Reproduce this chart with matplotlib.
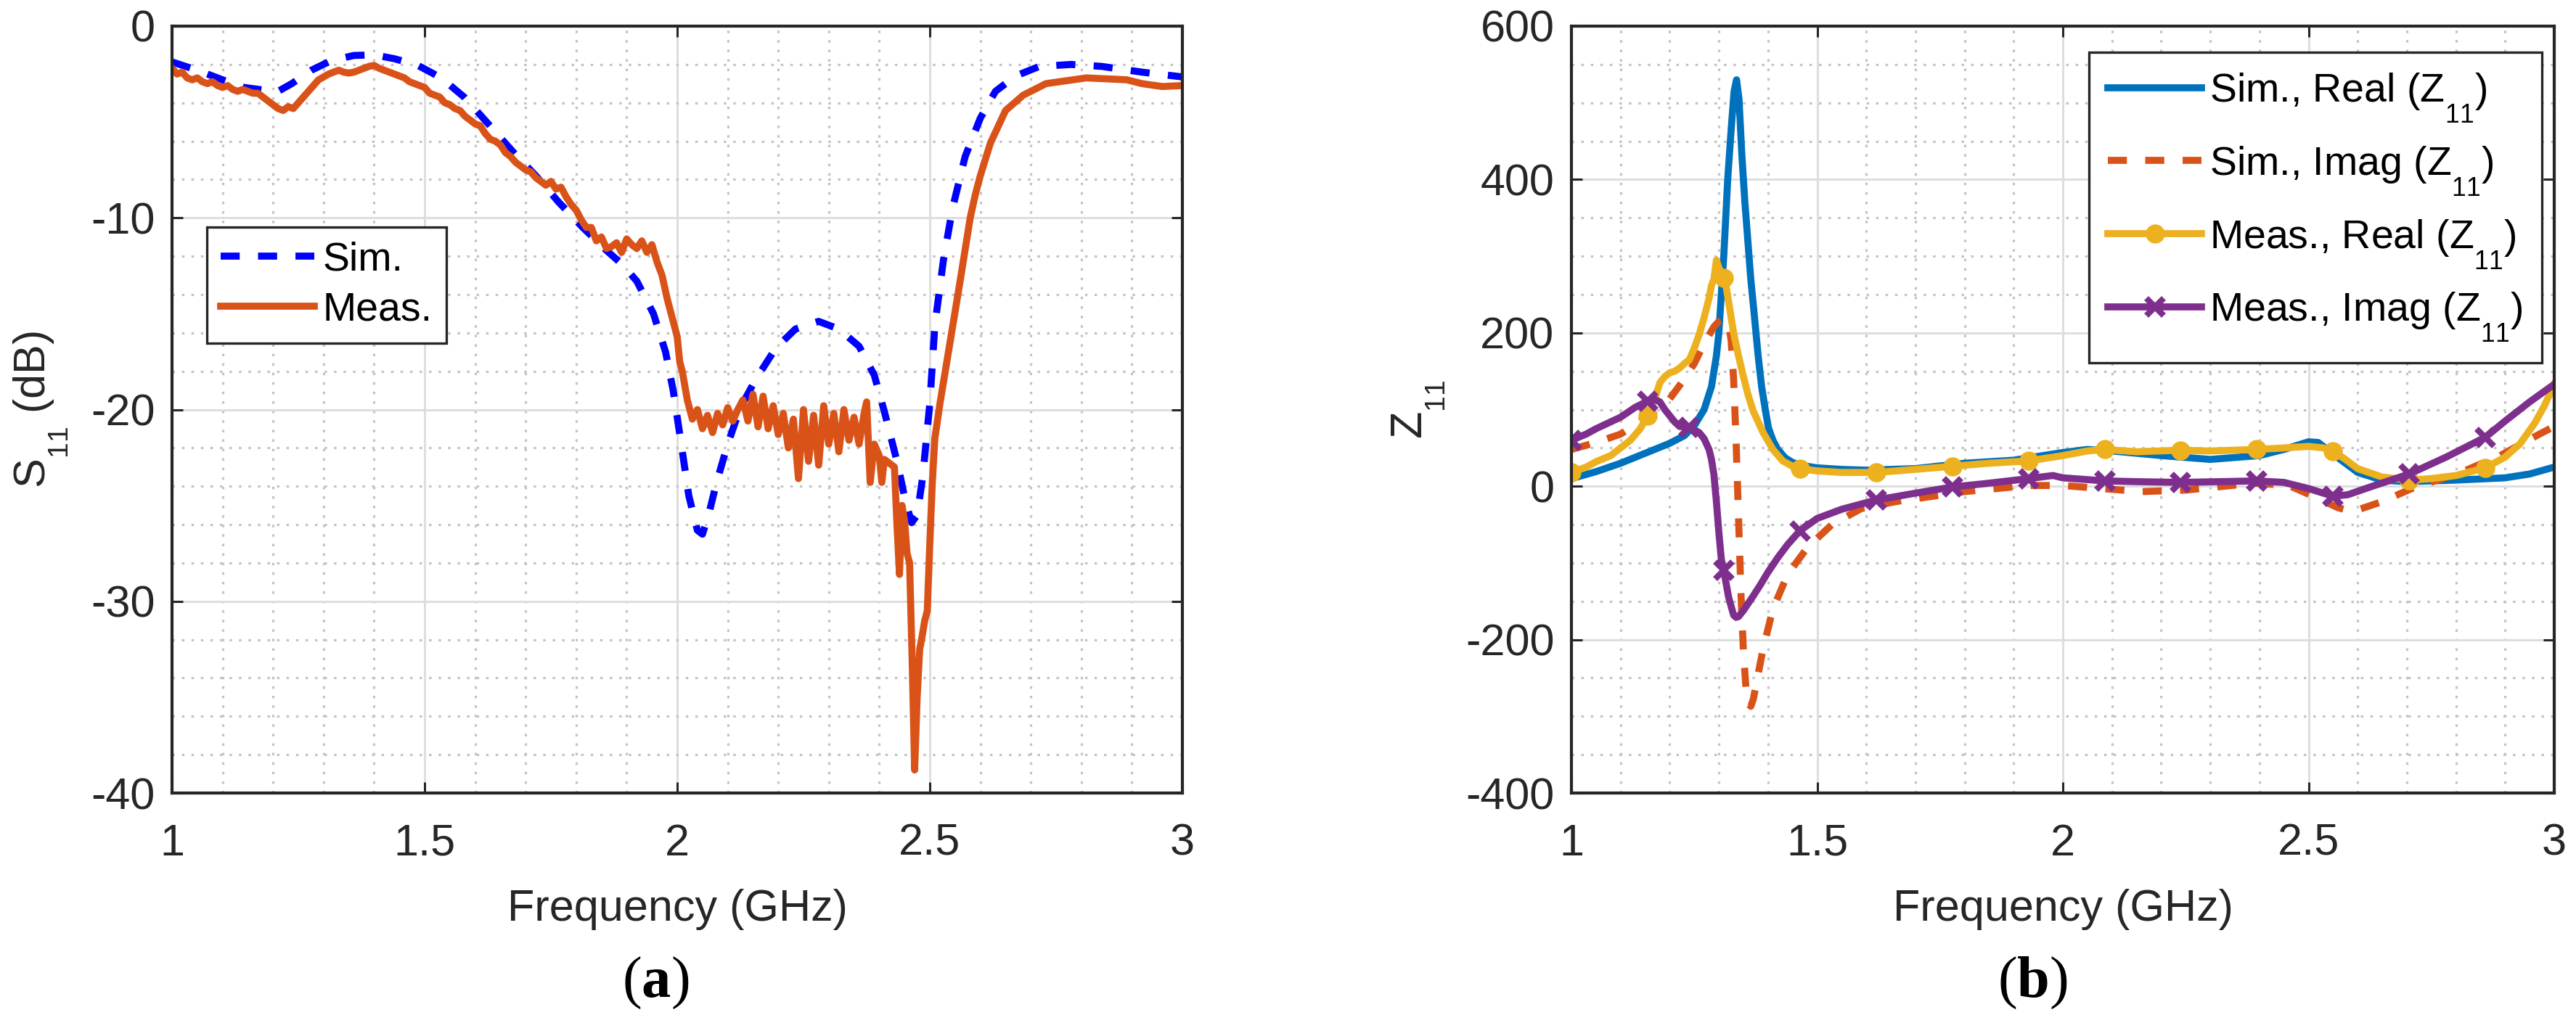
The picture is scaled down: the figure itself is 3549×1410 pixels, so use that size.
import numpy as np
import matplotlib
matplotlib.use("Agg")
import matplotlib.pyplot as plt
from matplotlib.ticker import MultipleLocator, FormatStrFormatter

plt.rcParams['font.family'] = ['Liberation Sans', 'DejaVu Sans']
plt.rcParams['axes.unicode_minus'] = False
plt.rcParams['mathtext.fontset'] = 'custom'
plt.rcParams['mathtext.rm'] = 'Liberation Sans'
plt.rcParams['mathtext.it'] = 'Liberation Sans:italic'
plt.rcParams['mathtext.bf'] = 'Liberation Serif:bold'

# MATLAB-like subscripts: lower and a little smaller
try:
    import matplotlib._mathtext as _mt
    _mt.FontConstantsBase.sub1 = 1.0
    _mt.SHRINK_FACTOR = 0.64
except Exception:
    pass

# ---------------- data: (a) S11 ----------------
sim_s11_f = [1.00, 1.05, 1.10, 1.143, 1.18, 1.21, 1.237, 1.276, 1.315, 1.36,
             1.40, 1.44, 1.486, 1.533, 1.58, 1.626, 1.673, 1.72, 1.766, 1.813,
             1.86, 1.89, 1.92, 1.953, 1.977, 1.992, 2.008, 2.023, 2.04, 2.05,
             2.062, 2.078, 2.10, 2.125, 2.156, 2.195, 2.234, 2.28, 2.32, 2.36,
             2.39, 2.41, 2.436, 2.452, 2.464, 2.475, 2.486, 2.50, 2.51, 2.527,
             2.545, 2.57, 2.60, 2.63, 2.67, 2.717, 2.78, 2.84, 2.92, 3.00]
sim_s11_db = [-1.87, -2.3, -2.8, -3.2, -3.33, -3.4, -3.0, -2.3, -1.8, -1.53,
              -1.5, -1.7, -2.04, -2.7, -3.74, -5.1, -6.5, -7.8, -9.2, -10.5,
              -11.7, -12.4, -13.3, -15.0, -17.0, -19.0, -21.8, -24.5, -26.3, -26.5,
              -25.5, -23.8, -21.8, -19.9, -18.4, -16.8, -15.8, -15.4, -15.8, -16.7,
              -18.2, -20.1, -22.8, -24.8, -25.9, -25.5, -23.5, -19.7, -15.6, -12.2,
              -9.5, -6.8, -4.8, -3.4, -2.6, -2.1, -2.0, -2.1, -2.4, -2.65]

meas_s11_f = [1.00, 1.01, 1.02, 1.03, 1.04, 1.05, 1.06, 1.07, 1.08, 1.09,
              1.10, 1.11, 1.12, 1.13, 1.14, 1.15, 1.16, 1.17, 1.18, 1.19,
              1.20, 1.21, 1.22, 1.23, 1.24, 1.25, 1.26, 1.27, 1.28, 1.29,
              1.30, 1.31, 1.32, 1.33, 1.34, 1.35, 1.36, 1.37, 1.38, 1.39,
              1.40, 1.41, 1.42, 1.43, 1.44, 1.45, 1.46, 1.47, 1.48, 1.49,
              1.50, 1.51, 1.52, 1.53, 1.54, 1.55, 1.56, 1.57, 1.58, 1.59,
              1.60, 1.61, 1.62, 1.63, 1.64, 1.65, 1.66, 1.67, 1.68, 1.69,
              1.70, 1.71, 1.72, 1.73, 1.74, 1.75, 1.76, 1.77, 1.78, 1.79,
              1.80, 1.81, 1.82, 1.83, 1.84, 1.85, 1.86, 1.87, 1.88, 1.89,
              1.90, 1.91, 1.92, 1.93, 1.94, 1.95, 1.96, 1.97, 1.98, 1.99,
              2.00, 2.005, 2.01, 2.02, 2.03, 2.04, 2.05, 2.06, 2.07, 2.08,
              2.09, 2.10, 2.11, 2.12, 2.13, 2.14, 2.15, 2.16, 2.17, 2.18,
              2.19, 2.20, 2.21, 2.22, 2.23, 2.24, 2.25, 2.26, 2.27, 2.28,
              2.29, 2.30, 2.31, 2.32, 2.33, 2.34, 2.35, 2.36, 2.37, 2.375,
              2.382, 2.39, 2.40, 2.405, 2.41, 2.42, 2.43, 2.435, 2.44, 2.445,
              2.45, 2.455, 2.46, 2.465, 2.47, 2.475, 2.48, 2.485, 2.49, 2.495,
              2.50, 2.505, 2.51, 2.52, 2.54, 2.56, 2.58, 2.59, 2.60, 2.62,
              2.65, 2.685, 2.73, 2.81, 2.89, 2.92, 2.96, 3.00]
meas_s11_db = [-2.2, -2.5, -2.4, -2.7, -2.8, -2.7, -2.9, -3.0, -2.9, -3.1,
               -3.2, -3.1, -3.3, -3.4, -3.3, -3.4, -3.5, -3.5, -3.7, -3.9,
               -4.1, -4.3, -4.4, -4.2, -4.3, -4.0, -3.7, -3.4, -3.1, -2.8,
               -2.65, -2.5, -2.4, -2.3, -2.4, -2.45, -2.4, -2.3, -2.2, -2.1,
               -2.05, -2.2, -2.3, -2.4, -2.5, -2.6, -2.7, -2.9, -3.0, -3.1,
               -3.2, -3.5, -3.6, -3.7, -4.0, -4.1, -4.3, -4.4, -4.7, -4.9,
               -5.1, -5.2, -5.6, -5.9, -6.0, -6.2, -6.6, -6.8, -7.1, -7.3,
               -7.5, -7.6, -7.9, -8.1, -8.3, -8.1, -8.5, -8.4, -8.9, -9.3,
               -9.6, -10.1, -10.5, -10.5, -11.2, -11.0, -11.6, -11.5, -11.3, -11.8,
               -11.1, -11.4, -11.6, -11.2, -11.8, -11.4, -12.3, -13.0, -14.2, -15.2,
               -16.2, -17.5, -18.0, -19.5, -20.5, -20.0, -21.0, -20.3, -21.2, -20.2,
               -20.8, -19.9, -20.6, -20.0, -19.5, -20.6, -19.2, -20.9, -19.3, -21.0,
               -19.8, -21.3, -20.2, -22.0, -20.5, -23.6, -20.0, -22.7, -20.3, -22.9,
               -19.8, -21.8, -20.2, -22.2, -20.0, -21.6, -20.4, -21.8, -20.2, -19.6,
               -23.8, -21.8, -22.4, -23.8, -22.6, -22.8, -23.0, -26.0, -28.6, -25.0,
               -25.8, -27.5, -28.0, -33.0, -38.8, -35.0, -32.5, -31.8, -31.0, -30.5,
               -27.0, -23.8, -21.5, -19.7, -16.5, -13.3, -10.0, -8.8, -7.8, -6.1,
               -4.4, -3.6, -3.0, -2.7, -2.8, -3.0, -3.15, -3.1]

# ---------------- data: (b) Z11 ----------------
sim_re_f = [1.00, 1.05, 1.10, 1.15, 1.20, 1.23, 1.25, 1.27, 1.285, 1.295,
            1.30, 1.305, 1.31, 1.318, 1.325, 1.331, 1.336, 1.341, 1.347, 1.353,
            1.359, 1.365, 1.372, 1.38, 1.387, 1.395, 1.401, 1.41, 1.42, 1.435,
            1.45, 1.47, 1.50, 1.55, 1.60, 1.70, 1.80, 1.90, 2.00, 2.05,
            2.10, 2.20, 2.30, 2.40, 2.45, 2.50, 2.52, 2.55, 2.60, 2.65,
            2.70, 2.80, 2.90, 2.95, 3.00]
sim_re_z = [10, 19, 30, 43, 56, 66, 79, 100, 130, 170,
            200, 250, 300, 400, 465, 515, 530, 505, 430, 370,
            320, 270, 224, 170, 130, 98, 76, 60, 48, 37,
            31, 27, 24, 22, 21, 23, 30, 34, 44, 48,
            46, 40, 35, 40, 48, 58, 57, 42, 18, 8,
            6, 8, 11, 16, 25]

sim_im_f = [1.00, 1.05, 1.10, 1.15, 1.20, 1.23, 1.25, 1.27, 1.29, 1.30,
            1.31, 1.32, 1.325, 1.33, 1.335, 1.34, 1.345, 1.35, 1.355, 1.36,
            1.365, 1.37, 1.38, 1.39, 1.41, 1.44, 1.48, 1.53, 1.59, 1.66,
            1.80, 1.93, 2.00, 2.08, 2.16, 2.25, 2.39, 2.46, 2.52, 2.56,
            2.59, 2.65, 2.71, 2.81, 2.89, 2.97, 3.00]
sim_im_z = [48, 57, 68, 89, 114, 140, 160, 186, 208, 215,
            218, 212, 190, 140, 60, -40, -140, -215, -262, -283,
            -287, -278, -245, -212, -160, -115, -80, -50, -29, -20,
            -7, 1, 1, -3, -7, -5, 4, 1, -16, -28,
            -33, -20, -3, 18, 40, 68, 78]

meas_re_f = [1.00, 1.03, 1.05, 1.08, 1.10, 1.12, 1.14, 1.155, 1.17, 1.18,
             1.19, 1.20, 1.21, 1.22, 1.23, 1.24, 1.25, 1.26, 1.27, 1.28,
             1.285, 1.29, 1.295, 1.30, 1.31, 1.315, 1.32, 1.33, 1.34, 1.35,
             1.36, 1.37, 1.39, 1.41, 1.43, 1.45, 1.465, 1.50, 1.55, 1.62,
             1.70, 1.775, 1.85, 1.93, 2.00, 2.05, 2.085, 2.15, 2.24, 2.30,
             2.395, 2.45, 2.50, 2.53, 2.55, 2.575, 2.60, 2.65, 2.705, 2.75,
             2.80, 2.86, 2.90, 2.93, 2.96, 2.98, 3.00]
meas_re_z = [18, 25, 32, 40, 50, 60, 75, 92, 115, 135,
             143, 148, 150, 154, 160, 165, 180, 198, 220, 245,
             262, 270, 295, 285, 272, 260, 240, 200, 170, 143,
             118, 98, 70, 48, 33, 26, 23, 20, 18, 18,
             22, 26, 30, 33, 40, 46, 48, 45, 47, 46,
             48, 50, 52, 50, 46, 35, 23, 12, 8, 10,
             14, 24, 38, 55, 82, 105, 133]

meas_im_f = [1.00, 1.03, 1.05, 1.08, 1.10, 1.13, 1.155, 1.17, 1.18, 1.19,
             1.20, 1.21, 1.22, 1.24, 1.26, 1.27, 1.28, 1.285, 1.29, 1.295,
             1.30, 1.305, 1.31, 1.32, 1.33, 1.335, 1.34, 1.35, 1.37, 1.385,
             1.40, 1.42, 1.44, 1.465, 1.50, 1.55, 1.62, 1.70, 1.775, 1.85,
             1.93, 1.98, 2.00, 2.085, 2.15, 2.24, 2.32, 2.395, 2.45, 2.50,
             2.55, 2.58, 2.63, 2.705, 2.78, 2.86, 2.90, 2.95, 3.00]
meas_im_z = [60, 68, 75, 84, 90, 103, 111, 113, 110, 100,
             92, 84, 78, 77, 70, 62, 48, 35, 15, -20,
             -60, -95, -110, -145, -168, -171, -170, -162, -143, -128,
             -112, -93, -76, -58, -42, -30, -18, -9, -1, 4,
             10, 14, 11, 7, 6, 5, 6, 7, 5, -3,
             -13, -11, 0, 16, 38, 64, 85, 110, 133]

marker_f = [1.0, 1.155, 1.31, 1.465, 1.62, 1.775, 1.93, 2.085, 2.24, 2.395,
            2.55, 2.705, 2.86]
marker_f_imag_extra = [1.24]

# ---------------- styling ----------------
W, H = 3549, 1410
fig = plt.figure(figsize=(W / 100, H / 100), dpi=100)

TXT = '#262626'
FS = 44
LW = 7
DASH = (2.7, 2.6)


def px_axes(x0, x1, y0, y1):
    return fig.add_axes([x0 / W, 1 - y1 / H, (x1 - x0) / W, (y1 - y0) / H])


def style(ax, ymaj, ymin):
    ax.set_xlim(1, 3)
    ax.xaxis.set_major_locator(MultipleLocator(0.5))
    ax.xaxis.set_minor_locator(MultipleLocator(0.1))
    ax.yaxis.set_major_locator(MultipleLocator(ymaj))
    ax.yaxis.set_minor_locator(MultipleLocator(ymin))
    ax.xaxis.set_major_formatter(FormatStrFormatter('%g'))
    ax.yaxis.set_major_formatter(FormatStrFormatter('%g'))
    ax.grid(which='major', color='#dedede', lw=2.2, zorder=0)
    ax.grid(which='minor', color='#c4c4c4', lw=2.3, linestyle=(0, (1.1, 3.0)), zorder=0)
    ax.set_axisbelow(True)
    ax.tick_params(which='major', direction='in', length=11, width=2.2, color=TXT,
                   top=True, right=True, labelsize=FS, labelcolor=TXT)
    ax.tick_params(axis='x', which='major', pad=30)
    ax.tick_params(axis='y', which='major', pad=17)
    ax.tick_params(which='minor', length=0, top=True, right=True)
    for s in ax.spines.values():
        s.set_linewidth(3)
        s.set_color(TXT)


# (a)
ax1 = px_axes(237, 1629, 36, 1093)
style(ax1, 10, 2)
ax1.set_ylim(-40, 0)
ax1.plot(sim_s11_f, sim_s11_db, color='#0000FF', lw=LW, linestyle=(0, DASH), label='Sim.')
ax1.plot(meas_s11_f, meas_s11_db, color='#D95319', lw=LW, solid_joinstyle='round', label='Meas.')
ax1.set_xlabel('Frequency (GHz)', fontsize=FS, color=TXT)
ax1.set_ylabel(r'$\mathregular{S_{11}}$ (dB)', fontsize=FS, color=TXT)
ax1.xaxis.set_label_coords(0.5, -0.125)
ax1.yaxis.set_label_coords(-0.101, 0.5)
leg1 = ax1.legend(loc='upper left', bbox_to_anchor=((285 - 237) / 1392, (1093 - 313) / 1057),
                  borderaxespad=0, fontsize=40, handlelength=2.32, handletextpad=0.2,
                  borderpad=0.35, labelspacing=0.3, fancybox=False, framealpha=1)
leg1.get_frame().set_edgecolor(TXT)
leg1.get_frame().set_linewidth(2.4)

# (b)
ax2 = px_axes(2165, 3519, 36, 1093)
style(ax2, 200, 50)
ax2.set_ylim(-400, 600)


def mk_idx(f, marks):
    f = np.asarray(f)
    return [int(np.argmin(np.abs(f - m))) for m in marks]


ax2.plot(sim_re_f, sim_re_z, color='#0072BD', lw=LW, solid_joinstyle='round',
         label=r'Sim., Real ($\mathregular{Z_{11}}$)')
ax2.plot(sim_im_f, sim_im_z, color='#D95319', lw=LW, linestyle=(0, DASH),
         label=r'Sim., Imag ($\mathregular{Z_{11}}$)')
ax2.plot(meas_re_f, meas_re_z, color='#EDB120', lw=LW, solid_joinstyle='round',
         marker='o', ms=17, mew=2, markevery=mk_idx(meas_re_f, marker_f),
         label=r'Meas., Real ($\mathregular{Z_{11}}$)')
ax2.plot(meas_im_f, meas_im_z, color='#7E2F8E', lw=LW, solid_joinstyle='round',
         marker='x', ms=17, mew=6,
         markevery=sorted(mk_idx(meas_im_f, marker_f + marker_f_imag_extra)),
         label=r'Meas., Imag ($\mathregular{Z_{11}}$)')
ax2.set_xlabel('Frequency (GHz)', fontsize=FS, color=TXT)
ax2.set_ylabel(r'$\mathregular{Z_{11}}$', fontsize=FS, color=TXT)
ax2.xaxis.set_label_coords(0.5, -0.125)
ax2.yaxis.set_label_coords(-0.127, 0.5)
leg2 = ax2.legend(loc='upper right', bbox_to_anchor=((3502 - 2165) / 1354, (1093 - 72) / 1057),
                  borderaxespad=0, fontsize=40, handlelength=2.32, handletextpad=0.2,
                  borderpad=0.47, labelspacing=0.5, fancybox=False, framealpha=1)
leg2.get_frame().set_edgecolor(TXT)
leg2.get_frame().set_linewidth(2.4)

# captions
fig.text(903 / W, 1 - 1355 / H, r'($\mathbf{a}$)', family='Liberation Serif',
         fontsize=58, ha='center', va='center', color='black')
fig.text(2800 / W, 1 - 1355 / H, r'($\mathbf{b}$)', family='Liberation Serif',
         fontsize=58, ha='center', va='center', color='black')

fig.savefig('out.png', dpi=100)
